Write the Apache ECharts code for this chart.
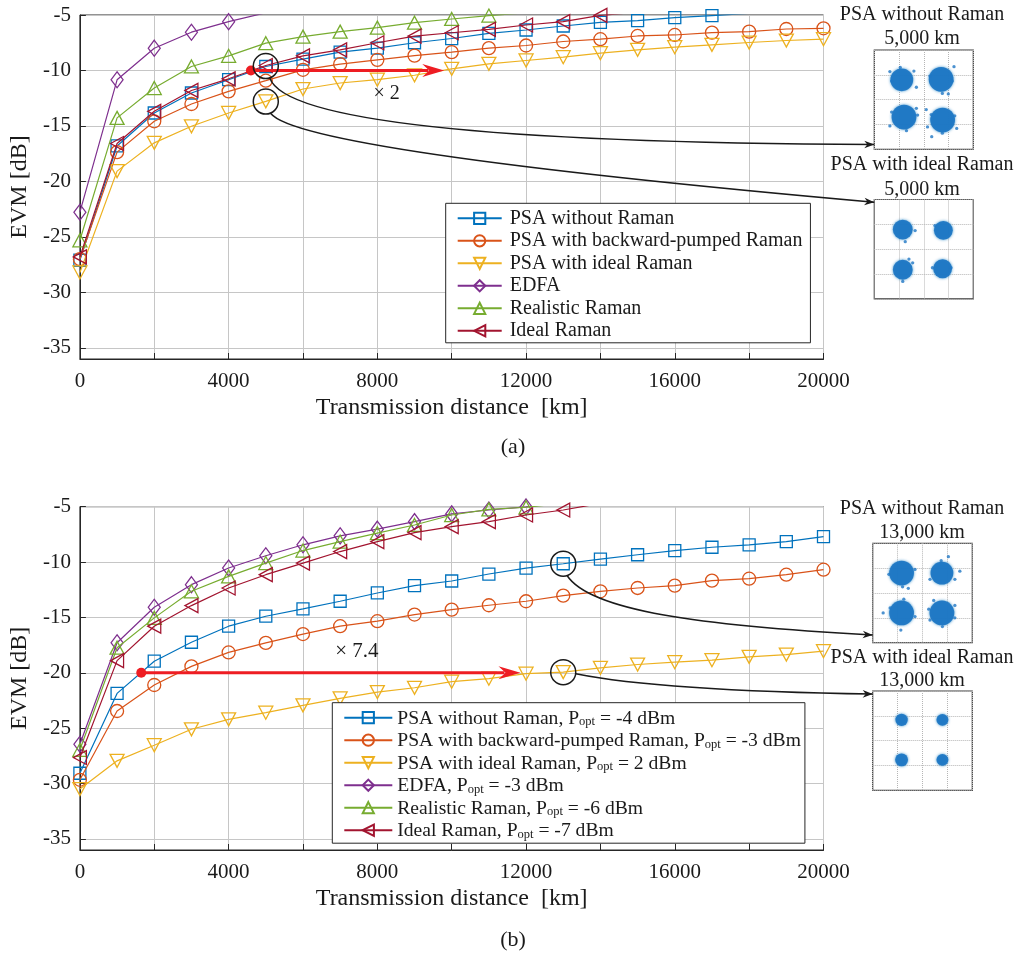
<!DOCTYPE html>
<html><head><meta charset="utf-8">
<script src="https://cdn.jsdelivr.net/npm/echarts@6/dist/echarts.min.js"></script>
<style>html,body{margin:0;padding:0;background:#fff}#c{width:1018px;height:953px}</style>
</head><body><div id="c"></div><script>
// ---------------- DATA ----------------
const distanceKm = [0,1000,2000,3000,4000,5000,6000,7000,8000,9000,10000,11000,12000,13000,14000,15000,16000,17000,18000,19000,20000];
const xTickLabels = [0,4000,8000,12000,16000,20000];
const yTickLabels = [-35,-30,-25,-20,-15,-10,-5];
const seriesNames = ['PSA without Raman','PSA with backward-pumped Raman','PSA with ideal Raman','EDFA','Realistic Raman','Ideal Raman'];
const poptB = [-4,-3,2,-3,-6,-7]; // dBm, panel (b)

// panel (a) EVM [dB]
const a_psaNoRaman  = [-27.1,-16.8,-13.83,-12.03,-10.83,-9.64,-8.98,-8.35,-7.99,-7.5,-7.12,-6.65,-6.35,-5.99,-5.66,-5.51,-5.24,-5.05,-4.85,null,null];
const a_psaBackward = [-27.0,-17.36,-14.58,-13.02,-11.88,-10.92,-9.94,-9.43,-9.04,-8.66,-8.35,-7.99,-7.75,-7.39,-7.18,-6.89,-6.8,-6.59,-6.5,-6.26,-6.2];
const a_psaIdeal    = [-28.2,-19.07,-16.52,-15.03,-13.83,-12.78,-11.67,-11.13,-10.83,-10.43,-9.85,-9.4,-9.1,-8.8,-8.44,-8.14,-7.9,-7.69,-7.48,-7.3,-7.18];
const a_edfa        = [-22.77,-10.84,-7.99,-6.55,-5.6,-4.8,null,null,null,null,null,null,null,null,null,null,null,null,null,null,null];
const a_realRaman   = [-25.3,-14.27,-11.58,-9.64,-8.68,-7.54,-6.95,-6.5,-6.14,-5.69,-5.36,-5.05,-4.8,null,null,null,null,null,null,null,null];
const a_idealRaman  = [-26.8,-16.58,-13.68,-11.8,-10.75,-9.55,-8.68,-8.14,-7.5,-6.9,-6.6,-6.29,-5.9,-5.6,-5.03,-4.75,null,null,null,null,null];

// panel (b) EVM [dB]
const b_psaNoRaman  = [-29.07,-21.86,-18.95,-17.24,-15.79,-14.89,-14.23,-13.54,-12.79,-12.13,-11.71,-11.08,-10.54,-10.15,-9.73,-9.34,-8.96,-8.66,-8.44,-8.15,-7.7];
const b_psaBackward = [-29.66,-23.45,-21.1,-19.42,-18.16,-17.3,-16.5,-15.79,-15.34,-14.74,-14.29,-13.9,-13.54,-13.03,-12.64,-12.34,-12.13,-11.68,-11.5,-11.14,-10.69];
const b_psaIdeal    = [-30.5,-27.95,-26.54,-25.1,-24.2,-23.6,-22.94,-22.31,-21.74,-21.35,-20.8,-20.53,-20.08,-19.94,-19.55,-19.25,-19.04,-18.86,-18.56,-18.35,-18.05];
const b_edfa        = [-26.45,-17.29,-14.08,-12.04,-10.54,-9.43,-8.44,-7.63,-7.03,-6.35,-5.65,-5.3,-5.02,-4.6,null,null,null,null,null,null,null];
const b_realRaman   = [-26.95,-17.73,-15.04,-12.64,-11.29,-10.09,-8.96,-8.15,-7.39,-6.65,-5.75,-5.24,-5.05,-4.7,null,null,null,null,null,null,null];
const b_idealRaman  = [-27.65,-18.9,-15.79,-13.93,-12.34,-11.14,-10.09,-9.05,-8.15,-7.34,-6.8,-6.35,-5.75,-5.3,-4.7,null,null,null,null,null,null];

// annotations [distance km, EVM dB]
const a_circles = [[5000,-9.6],[5000,-12.8]];
const a_arrow = [[4600,-10],[9800,-10]];
const a_gainText = '× 2', a_gainAt = [8250,-12.1];
const b_circles = [[13000,-10.15],[13000,-19.94]];
const b_arrow = [[1650,-20],[11850,-20]];
const b_gainText = '× 7.4', b_gainAt = [7450,-18.05];

// constellation insets: cluster centres [I, Q, spread radius] and visible outliers [I, Q]
const inset1Title = ['PSA without Raman','5,000 km'];
const inset1Clusters = [[-0.89,0.8,0.46],[0.7,0.82,0.5],[-0.8,-0.7,0.5],[0.76,-0.82,0.5]];
const inset1Outliers = [[-1.37,1.13],[1.22,1.33],[0.99,0.23],[-0.25,-0.62],[-1.37,-1.06],[0.32,-1.49],[1.33,-1.16],[-0.3,0.5],[0.1,-0.4],
  [-1.3,0.75],[-0.4,1.15],[-0.95,1.3],[0.25,0.95],[1.15,0.75],[0.75,0.25],[-1.3,-0.5],[-0.3,-0.35],[-0.7,-1.25],[0.3,-0.6],[1.25,-0.65],[0.75,-1.35],[0.15,-1.1]];
const inset2Title = ['PSA with ideal Raman','5,000 km'];
const inset2Clusters = [[-0.85,0.79,0.4],[0.79,0.76,0.38],[-0.85,-0.83,0.4],[0.76,-0.79,0.38]];
const inset2Outliers = [[-0.35,0.75],[-0.45,-0.55],[-0.85,-1.3],[1.1,-0.75],[-0.75,0.3],[0.45,0.95],[0.35,-0.75],[-0.6,-0.4]];
const inset3Title = ['PSA without Raman','13,000 km'];
const inset3Clusters = [[-0.84,0.8,0.5],[0.78,0.8,0.46],[-0.84,-0.8,0.5],[0.78,-0.8,0.5]];
const inset3Outliers = [[1.5,0.88],[-1.58,-0.8],[0.3,-1.09],[-0.87,-1.49],[-0.57,0.19],[1.04,1.46],[1.3,-0.5],[-0.8,0.25],
  [-1.35,0.75],[-0.3,0.95],[0.3,0.55],[1.3,0.55],[0.75,1.3],[-1.3,-0.6],[-0.3,-0.95],[-0.75,-0.25],[0.25,-0.65],[1.3,-1.0],[0.8,-1.35],[0.45,-0.3]];
const inset4Title = ['PSA with ideal Raman','13,000 km'];
const inset4Clusters = [[-0.84,0.84,0.25],[0.8,0.84,0.24],[-0.84,-0.77,0.26],[0.8,-0.77,0.24]];
const inset4Outliers = [];

// ---------------- STYLE / LAYOUT ----------------
const FONT = '"Liberation Serif","Times New Roman",serif';
const TXT = '#1a1a1a';
const colors = ['#0072BD','#D95319','#EDB120','#7E2F8E','#77AC30','#A2142F'];
const symbols = ['rect','circle','triangle','diamond','triangle','triangle'];
const symRot = [0,0,180,0,0,90];
const symSize = [12,13,[14,13],[12,16],[14,13],[14,13]];
const RED = '#EE1D23';
const DOT = '#1f77c4';

const mainGrids = [
  {left:78.5, top:15, width:745, height:344},
  {left:78.5, top:506.7, width:745, height:343.3}
];
const insetGrids = [
  {left:874.3, top:50, width:99, height:99.3},
  {left:874.3, top:199.5, width:99, height:99.3},
  {left:872.7, top:543.3, width:99.6, height:99.4},
  {left:872.7, top:691, width:99.6, height:99.4}
];

const chart = echarts.init(document.getElementById('c'), null, {renderer:'canvas'});

const grids = [], xAxes = [], yAxes = [], series = [];
mainGrids.forEach((g, i) => {
  grids.push(Object.assign({show:true, borderColor:'#262626', borderWidth:1, containLabel:false, backgroundColor:'#fff'}, g));
  xAxes.push({
    type:'value', gridIndex:i, min:0, max:20000, interval:2000,
    name:'Transmission distance  [km]', nameLocation:'middle', nameGap:37,
    nameTextStyle:{fontFamily:FONT, fontSize:24, color:TXT},
    axisLine:{show:true, lineStyle:{color:'#262626', width:1}},
    axisTick:{show:true, inside:true, length:6, lineStyle:{color:'#262626'}},
    axisLabel:{customValues:xTickLabels, formatter:(v) => String(v), fontFamily:FONT, fontSize:21, color:TXT, margin:12},
    splitLine:{show:true, lineStyle:{color:'#c6c6c6', width:1}}
  });
  yAxes.push({
    type:'value', gridIndex:i, min:-36, max:-5,
    name:'EVM [dB]', nameLocation:'middle', nameGap:44,
    nameTextStyle:{fontFamily:FONT, fontSize:24, color:TXT},
    axisLine:{show:true, lineStyle:{color:'#262626', width:1}},
    axisTick:{show:true, inside:true, length:6, customValues:yTickLabels, lineStyle:{color:'#262626'}},
    axisLabel:{customValues:yTickLabels, formatter:(v) => String(v), fontFamily:FONT, fontSize:21, color:TXT, margin:9},
    splitLine:{show:true, lineStyle:{color:'#c6c6c6', width:1}}
  });
});
insetGrids.forEach((g, k) => {
  grids.push(Object.assign({show:true, borderColor:'#3a3a3a', borderWidth:1.2, containLabel:false, backgroundColor:'#fff'}, g));
  const ax = {type:'value', gridIndex:2+k, min:-2, max:2, interval:1,
    axisLine:{show:false}, axisTick:{show:false}, axisLabel:{show:false},
    splitLine:{show:true, lineStyle:{color:'#b5b5b5', type:'dotted', width:1}}};
  xAxes.push(Object.assign({}, ax));
  yAxes.push(Object.assign({}, ax));
});

const aData = [a_psaNoRaman,a_psaBackward,a_psaIdeal,a_edfa,a_realRaman,a_idealRaman];
const bData = [b_psaNoRaman,b_psaBackward,b_psaIdeal,b_edfa,b_realRaman,b_idealRaman];
const bNames = seriesNames.map((n,i) => n + ', Popt = ' + poptB[i] + ' dBm');

function lineSeries(name, vals, i, gi) {
  const pts = [];
  distanceKm.forEach((d, j) => { if (vals[j] !== null) pts.push([d, vals[j]]); });
  return {
    type:'line', name, xAxisIndex:gi, yAxisIndex:gi, data:pts,
    symbol:symbols[i], symbolSize:symSize[i], symbolRotate:symRot[i], showSymbol:true,
    lineStyle:{color:colors[i], width:1.2},
    itemStyle:{color:'rgba(255,255,255,0)', borderColor:colors[i], borderWidth:1.3},
    clip:true, animation:false, z:3+i*0.01, emphasis:{disabled:true}
  };
}
aData.forEach((v,i) => series.push(lineSeries(seriesNames[i], v, i, 0)));
bData.forEach((v,i) => series.push(lineSeries(bNames[i], v, i, 1)));

const PX_PER_UNIT = 99/4;
[[inset1Clusters,inset1Outliers],[inset2Clusters,inset2Outliers],[inset3Clusters,inset3Outliers],[inset4Clusters,inset4Outliers]].forEach((c,k) => {
  series.push({type:'scatter', xAxisIndex:2+k, yAxisIndex:2+k, silent:true, animation:false,
    data:c[0].map(p => [p[0],p[1],p[2]]), symbol:'circle',
    symbolSize:(d) => d[2]*2*PX_PER_UNIT,
    itemStyle:{color:DOT, opacity:0.95, shadowBlur:3, shadowColor:'rgba(0,114,189,0.8)'}});
  series.push({type:'scatter', xAxisIndex:2+k, yAxisIndex:2+k, silent:true, animation:false,
    data:c[1], symbol:'circle', symbolSize:3.3, itemStyle:{color:DOT}});
});

const legendBase = {
  orient:'vertical', backgroundColor:'#fff', borderColor:'#262626', borderWidth:1,
  itemGap:0.5, itemHeight:14, selectedMode:false,
  textStyle:{fontFamily:FONT, fontSize:20, color:TXT, lineHeight:22}
};
const legends = [
  Object.assign({}, legendBase, {left:445.7, top:203.3, padding:[4,8,1,11], itemWidth:44,
    data:seriesNames, textStyle:Object.assign({}, legendBase.textStyle, {padding:[0,0,0,3]})}),
  Object.assign({}, legendBase, {left:332.3, top:702.7, padding:[4,4,2,11], itemWidth:48,
    data:bNames,
    formatter:(n) => { const p = n.split('Popt'); return '{n|' + p[0] + 'P}{s|opt}{n|' + p[1] + '}'; },
    textStyle:Object.assign({}, legendBase.textStyle, {rich:{
      n:{fontFamily:FONT, fontSize:19.6, color:TXT, lineHeight:22, verticalAlign:'bottom'},
      s:{fontFamily:FONT, fontSize:12.5, color:TXT, lineHeight:13, verticalAlign:'bottom'}
    }})})
];

chart.setOption({
  backgroundColor:'#fff', animation:false,
  grid:grids, xAxis:xAxes, yAxis:yAxes, series, legend:legends
});

// ---------------- ANNOTATIONS ----------------
const P = (gi, v) => chart.convertToPixel({gridIndex:gi}, v);
const gfx = [];
function circ(gi, v) {
  const p = P(gi, v);
  gfx.push({type:'circle', z:100, shape:{cx:p[0], cy:p[1], r:12.5}, style:{fill:'none', stroke:'#1a1a1a', lineWidth:1.5}});
  return p;
}
function arrowHead(tip, dx, dy, len, half, color) {
  const n = Math.hypot(dx,dy); const ux = dx/n, uy = dy/n;
  const bx = tip[0]-ux*len, by = tip[1]-uy*len;
  const nx = bx+ux*len*0.3, ny = by+uy*len*0.3;
  return {type:'polygon', z:101, shape:{points:[tip,[bx-uy*half, by+ux*half],[nx,ny],[bx+uy*half, by-ux*half]]}, style:{fill:color}};
}
function connector(start, cps, end) {
  const shape = {x1:start[0], y1:start[1], x2:end[0], y2:end[1], cpx1:cps[0][0], cpy1:cps[0][1]};
  if (cps[1]) { shape.cpx2 = cps[1][0]; shape.cpy2 = cps[1][1]; }
  gfx.push({type:'bezierCurve', z:100, shape, style:{fill:'none', stroke:'#1a1a1a', lineWidth:1.5}});
  const last = cps[cps.length-1];
  gfx.push(arrowHead(end, end[0]-last[0], end[1]-last[1], 10, 3.8, '#1a1a1a'));
}
function redArrow(gi, seg) {
  const a = P(gi, seg[0]), b = P(gi, seg[1]);
  gfx.push({type:'line', z:99, shape:{x1:a[0], y1:a[1], x2:b[0]-16, y2:b[1]}, style:{stroke:RED, lineWidth:3}});
  gfx.push({type:'polygon', z:99, shape:{points:[[b[0],b[1]],[b[0]-22,b[1]-6.5],[b[0]-15,b[1]],[b[0]-22,b[1]+6.5]]}, style:{fill:RED}});
  gfx.push({type:'circle', z:99, shape:{cx:a[0], cy:a[1], r:5}, style:{fill:RED}});
}
function txt(x, y, s, size, align) {
  gfx.push({type:'text', z:102, x, y, style:{text:s, fontFamily:FONT, fontSize:size, fill:TXT, align:align||'center', verticalAlign:'middle'}});
}

// panel (a)
redArrow(0, a_arrow);
const ca1 = circ(0, a_circles[0]), ca2 = circ(0, a_circles[1]);
let g = P(0, a_gainAt); txt(g[0], g[1], a_gainText, 20);
const i1L = insetGrids[0].left, i3L = insetGrids[2].left;
connector([ca1[0]+4, ca1[1]+12], [[ca1[0]+26, ca1[1]+76]], [i1L, 144.5]);
connector([ca2[0]+5, ca2[1]+12], [[ca2[0]+35, ca2[1]+50]], [i1L, 202.3]);
// panel (b)
redArrow(1, b_arrow);
const cb1 = circ(1, b_circles[0]), cb2 = circ(1, b_circles[1]);
g = P(1, b_gainAt); txt(g[0], g[1], b_gainText, 21);
connector([cb1[0]+4, cb1[1]+12], [[cb1[0]+27, cb1[1]+47],[cb1[0]+137, cb1[1]+62]], [i3L, 635]);
connector([cb2[0]+12.5, cb2[1]+1.5], [[cb2[0]+97, cb2[1]+18.5]], [i3L, 694]);

// inset titles
[[inset1Title,15,39],[inset2Title,165,189.5],[inset3Title,509,533],[inset4Title,657.5,681]].forEach(t => {
  txt(922, t[1], t[0][0], 20); txt(922, t[2], t[0][1], 20);
});
// panel labels
txt(513, 447, '(a)', 22);
txt(513, 940, '(b)', 22);

chart.setOption({graphic:gfx});
</script></body></html>
